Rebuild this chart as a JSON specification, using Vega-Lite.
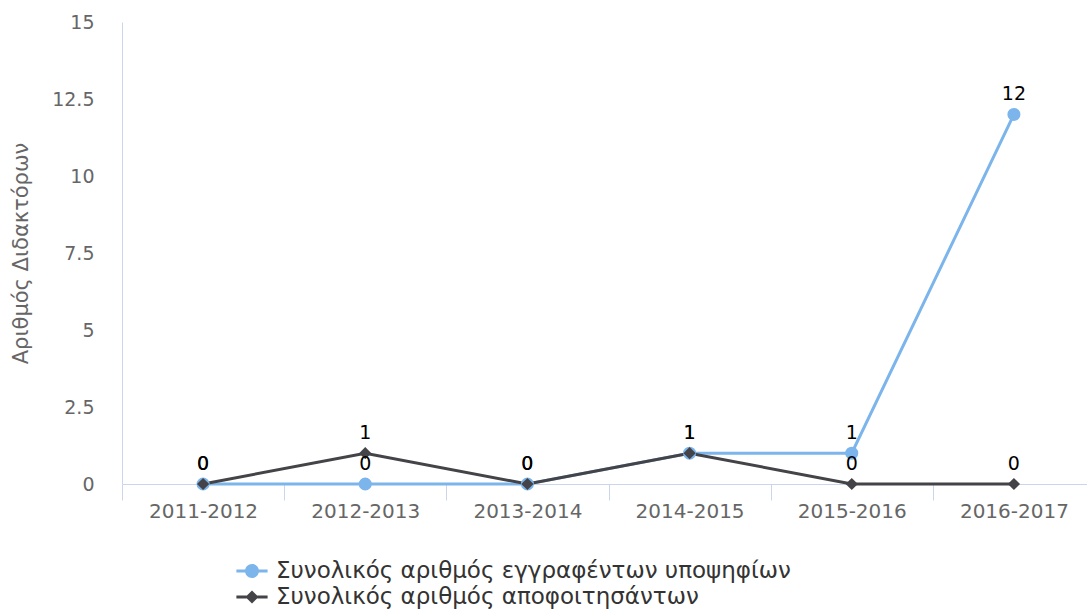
{
  "$schema": "https://vega.github.io/schema/vega-lite/v6.json",
  "autosize": "none",
  "width": 965,
  "height": 462,
  "padding": {"left": 122, "top": 22, "right": 0, "bottom": 129},
  "background": "white",
  "config": {
    "view": {"stroke": null},
    "font": "DejaVu Sans"
  },
  "data": {
    "values": [
      {"year": "2011-2012", "series": "Συνολικός αριθμός εγγραφέντων υποψηφίων", "value": 0},
      {"year": "2012-2013", "series": "Συνολικός αριθμός εγγραφέντων υποψηφίων", "value": 0},
      {"year": "2013-2014", "series": "Συνολικός αριθμός εγγραφέντων υποψηφίων", "value": 0},
      {"year": "2014-2015", "series": "Συνολικός αριθμός εγγραφέντων υποψηφίων", "value": 1},
      {"year": "2015-2016", "series": "Συνολικός αριθμός εγγραφέντων υποψηφίων", "value": 1},
      {"year": "2016-2017", "series": "Συνολικός αριθμός εγγραφέντων υποψηφίων", "value": 12},
      {"year": "2011-2012", "series": "Συνολικός αριθμός αποφοιτησάντων", "value": 0},
      {"year": "2012-2013", "series": "Συνολικός αριθμός αποφοιτησάντων", "value": 1},
      {"year": "2013-2014", "series": "Συνολικός αριθμός αποφοιτησάντων", "value": 0},
      {"year": "2014-2015", "series": "Συνολικός αριθμός αποφοιτησάντων", "value": 1},
      {"year": "2015-2016", "series": "Συνολικός αριθμός αποφοιτησάντων", "value": 0},
      {"year": "2016-2017", "series": "Συνολικός αριθμός αποφοιτησάντων", "value": 0}
    ]
  },
  "encoding": {
    "x": {
      "field": "year",
      "type": "nominal",
      "sort": null,
      "scale": {"type": "band", "range": [0, 973], "paddingInner": 0, "paddingOuter": 0},
      "axis": {
        "title": null,
        "labelAngle": 0,
        "tickBand": "extent",
        "tickSize": 16,
        "tickColor": "#ccd6eb",
        "domainColor": "#ccd6eb",
        "labelColor": "#666666",
        "labelFontSize": 20,
        "labelPadding": 1,
        "labelFont": "DejaVu Sans"
      }
    },
    "y": {
      "field": "value",
      "type": "quantitative",
      "scale": {"domain": [0, 15], "nice": false},
      "axis": {
        "title": "Αριθμός Διδακτόρων",
        "titleColor": "#666666",
        "titleFontSize": 21,
        "titleFontWeight": "normal",
        "titlePadding": 20,
        "values": [0, 2.5, 5, 7.5, 10, 12.5, 15],
        "format": ".1~f",
        "grid": false,
        "ticks": false,
        "domainColor": "#ccd6eb",
        "labelColor": "#666666",
        "labelFontSize": 19,
        "labelPadding": 28,
        "labelFont": "DejaVu Sans"
      }
    },
    "color": {
      "field": "series",
      "type": "nominal",
      "sort": null,
      "scale": {
        "domain": ["Συνολικός αριθμός εγγραφέντων υποψηφίων", "Συνολικός αριθμός αποφοιτησάντων"],
        "range": ["#7cb5ec", "#434348"]
      },
      "legend": {
        "title": null,
        "orient": "none",
        "legendX": 118,
        "legendY": 537,
        "direction": "vertical",
        "padding": 0,
        "labelFontSize": 23,
        "labelColor": "#333333",
        "labelLimit": 0,
        "labelOffset": 12,
        "rowPadding": 2,
        "symbolSize": 576,
        "encode": {
          "symbols": {
            "update": {
              "shape": {"signal": "datum.index === 0 ? 'M-1.3,-0.125H-0.5V0.125H-1.3Z M0.5,-0.125H1.3V0.125H0.5Z M0.58,0A0.58,0.58,0,1,1,-0.58,0A0.58,0.58,0,1,1,0.58,0Z' : 'M-1.3,-0.125H-0.45V0.125H-1.3Z M0.45,-0.125H1.3V0.125H0.45Z M0,-0.55L0.55,0L0,0.55L-0.55,0Z'"},
              "fill": {"signal": "datum.index === 0 ? '#7cb5ec' : '#434348'"},
              "stroke": {"value": "transparent"},
              "strokeWidth": {"value": 0},
              "opacity": {"value": 1},
              "fillOpacity": {"value": 1},
              "size": {"value": 576}
            }
          }
        }
      }
    }
  },
  "layer": [
    {
      "mark": {"type": "line", "strokeWidth": 3, "clip": false}
    },
    {
      "transform": [{"filter": "datum.series === 'Συνολικός αριθμός εγγραφέντων υποψηφίων'"}],
      "mark": {"type": "point", "shape": "circle", "filled": true, "opacity": 1, "size": 170, "clip": false}
    },
    {
      "transform": [{"filter": "datum.series === 'Συνολικός αριθμός αποφοιτησάντων'"}],
      "mark": {"type": "point", "shape": "diamond", "filled": true, "opacity": 1, "size": 150, "clip": false}
    },
    {
      "mark": {"type": "text", "dy": -20, "fontSize": 19, "color": "#000000", "font": "DejaVu Sans"},
      "encoding": {
        "text": {"field": "value", "type": "quantitative"},
        "color": {"value": "#000000"}
      }
    }
  ]
}
